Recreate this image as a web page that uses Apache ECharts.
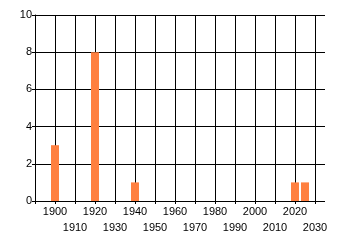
<!DOCTYPE html>
<html><head><meta charset="utf-8">
<script src="https://cdn.jsdelivr.net/npm/echarts@6/dist/echarts.min.js"></script>
<style>html,body{margin:0;padding:0;background:#fff}#c{width:340px;height:245px}</style>
</head><body><div id="c"></div>
<script>
const years = [1900, 1920, 1940, 2020, 2025];
const counts = [3, 8, 1, 1, 1];
const yTicks = [0, 2, 4, 6, 8, 10];
const xMin = 1890, xMax = 2035, xLabelMax = 2030, xStep = 10;

const font = 'Liberation Sans';
const chart = echarts.init(document.getElementById('c'), null, {renderer: 'canvas'});
const lineStyle = {color: '#000', width: 1};
const isOdd = v => ((v - 1900) / 10) % 2 !== 0;
const labelAxis = (row) => ({
  type: 'value', gridIndex: 1, min: xMin, max: xLabelMax, interval: xStep,
  position: 'bottom', offset: 0,
  axisLine: {show: false},
  axisTick: {show: row === 0, length: 3, lineStyle: lineStyle},
  splitLine: {show: row === 0, lineStyle: lineStyle},
  axisLabel: {color: '#000', fontFamily: font, fontSize: 11, margin: row === 0 ? 5 : 21,
    showMaxLabel: true, showMinLabel: true, hideOverlap: false,
    formatter: v => (v === xMin || (row === 0) === isOdd(v)) ? '' : String(v)}
});
chart.setOption({
  animation: false,
  grid: [
    {left: 35, right: 15, top: 15, bottom: 44, containLabel: false},
    {left: 35, right: 25, top: 15, bottom: 44, containLabel: false}
  ],
  xAxis: [
    {type: 'value', gridIndex: 0, min: xMin, max: xMax, interval: xStep,
     axisLine: {show: false}, axisTick: {show: false}, axisLabel: {show: false}, splitLine: {show: false}},
    labelAxis(0),
    labelAxis(1)
  ],
  yAxis: [
    {type: 'value', gridIndex: 0, min: yTicks[0], max: yTicks[yTicks.length - 1], interval: 2,
     axisLine: {show: true, lineStyle: lineStyle},
     axisTick: {show: true, length: 3, lineStyle: lineStyle},
     splitLine: {show: true, lineStyle: lineStyle},
     axisLabel: {color: '#000', fontFamily: font, fontSize: 11, margin: 3, showMaxLabel: true, showMinLabel: true}},
    {type: 'value', gridIndex: 1, min: 0, max: 10, show: false}
  ],
  series: [{
    type: 'bar', xAxisIndex: 0, yAxisIndex: 0,
    data: years.map((y, i) => [y, counts[i]]),
    barWidth: 8,
    itemStyle: {color: '#FF8040'}
  }]
});
</script></body></html>
